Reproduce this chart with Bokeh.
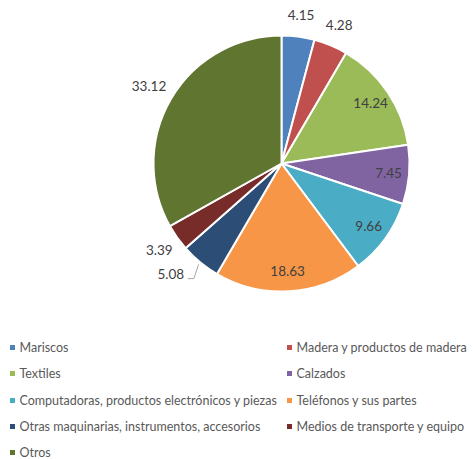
import math
from bokeh.plotting import figure
from bokeh.models import Range1d, ColumnDataSource
from bokeh.core.properties import value
from bokeh.embed import file_html
from bokeh.resources import INLINE

categories = ["Mariscos", "Madera y productos de madera", "Textiles", "Calzados",
              "Computadoras, productos electrónicos y piezas", "Teléfonos y sus partes",
              "Otras maquinarias, instrumentos, accesorios", "Medios de transporte y equipo",
              "Otros"]
values = [4.15, 4.28, 14.24, 7.45, 9.66, 18.63, 5.08, 3.39, 33.12]
labels = ["4.15", "4.28", "14.24", "7.45", "9.66", "18.63", "5.08", "3.39", "33.12"]
colors = ["#4F81BD", "#C0504D", "#9BBB59", "#8064A2", "#4BACC6", "#F79646",
          "#2C4D75", "#772C2A", "#5F7530"]

W, H = 473, 459
p = figure(width=W, height=H, output_backend="svg", toolbar_location=None,
           x_range=Range1d(0, W), y_range=Range1d(0, H), min_border=0)
p.axis.visible = False
p.grid.visible = False
p.outline_line_color = None
p.background_fill_color = "white"

def Y(sy):
    return H - sy

def X(sx):
    return sx

cx, cy, R = X(281), Y(163), 128
total = sum(values)
starts, ends, mids = [], [], []
cum = 0.0
for v in values:
    a0 = math.pi / 2 - 2 * math.pi * cum / total
    cum += v
    a1 = math.pi / 2 - 2 * math.pi * cum / total
    starts.append(a0)
    ends.append(a1)
    mids.append((a0 + a1) / 2)

src = ColumnDataSource(dict(start=starts, end=ends, color=colors))
p.wedge(x=cx, y=cy, radius=R, start_angle="start", end_angle="end", direction="clock",
        fill_color="color", line_color="white", line_width=2, source=src)

# data labels
inside = [False, False, True, True, True, True, False, False, False]
lx, ly = [], []
for i, m in enumerate(mids):
    if inside[i]:
        r = 0.84 * R
        ang = m
    else:
        r = 1.17 * R
        ang = m
        if i == 6:
            ang = m - 0.10
            r = 1.22 * R
        if i == 8:
            r = 1.2 * R
    lx.append(cx + r * math.cos(ang))
    ly.append(cy + r * math.sin(ang))
p.text(x=lx, y=ly, text=labels, text_align="center", text_baseline="middle",
       text_font=value("Lato"), text_font_size="13.5px", text_color="#404040")

# leader line for 5.08
i = 6
ex = cx + R * 1.02 * math.cos(mids[i])
ey = cy + R * 1.02 * math.sin(mids[i])
tx = lx[i] + 17
ty = ly[i] - 5
p.line(x=[tx, tx + 6, ex], y=[ty, ty, ey], line_color="#A6A6A6", line_width=1)

# legend
col_x = [X(12), X(289)]
row_y = [347, 373, 400, 426, 452]
for k, name in enumerate(categories):
    row, col = divmod(k, 2)
    sx = col_x[col]
    sy = Y(row_y[row])
    p.rect(x=sx, y=sy, width=5, height=5, fill_color=colors[k], line_color=None)
    p.text(x=[sx + 7], y=[sy], text=[name], text_align="left", text_baseline="middle",
           text_font=value("Lato"), text_font_size="12.5px", text_color="#595959")

open("out.html", "w").write(file_html(p, INLINE))
